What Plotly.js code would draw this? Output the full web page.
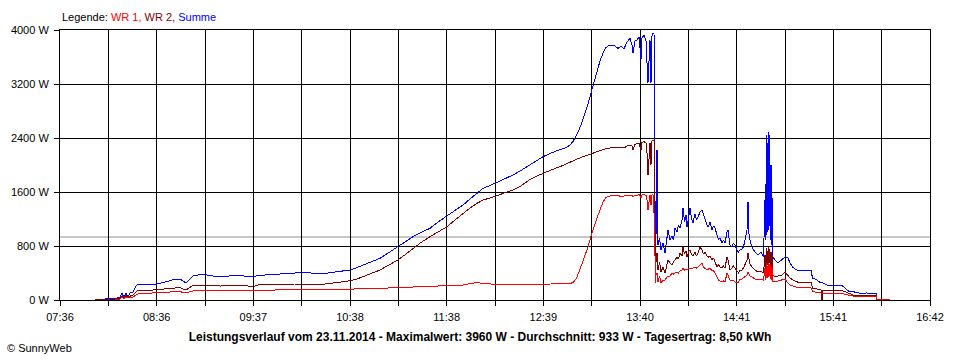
<!DOCTYPE html>
<html>
<head>
<meta charset="utf-8">
<script src="https://cdn.plot.ly/plotly-3.0.1.min.js"></script>
<style>
html,body{margin:0;padding:0;background:#fff;}
#chart{width:960px;height:360px;}
#chart .scatterlayer path, #chart .gridlayer path, #chart .layer-between path { shape-rendering: crispEdges; }
</style>
</head>
<body>
<div id="chart"></div>
<script>
// ---- data ----
const seriesNames = ['WR 1', 'WR 2', 'Summe'];
const times = [
'07:57:58','08:04:15','08:10:31','08:13:39','08:14:55','08:16:10','08:17:25','08:18:41','08:19:56','08:21:49',
'08:23:42','08:24:57','08:27:28','08:30:36','08:33:44','08:36:53','08:40:01','08:43:09','08:46:17','08:48:48',
'08:51:19','08:53:12','08:55:05','08:56:57','08:59:28','09:02:36','09:07:00','09:11:24','09:16:25','09:22:41',
'09:28:58','09:33:59','09:37:07','09:40:16','09:44:39','09:50:56','09:57:12','10:03:29','10:09:45','10:16:02',
'10:22:19','10:28:35','10:34:52','10:38:00','10:42:24','10:46:09','10:51:11','10:56:50','11:02:28','11:08:07',
'11:13:09','11:17:32','11:22:33','11:28:12','11:33:14','11:38:52','11:43:54','11:48:55','11:53:19','11:57:42',
'12:01:28','12:05:52','12:09:38','12:15:17','12:20:18','12:25:19','12:30:58','12:35:21','12:39:07','12:44:09',
'12:49:48','12:53:33','12:56:04','12:57:57','12:59:50','13:01:43','13:03:36','13:05:29','13:07:22','13:09:15',
'13:11:08','13:13:01','13:14:54','13:16:47','13:18:40','13:21:10','13:23:41','13:26:12','13:28:05','13:29:57',
'13:31:50','13:33:43','13:34:59','13:35:36','13:36:52','13:38:07','13:39:22','13:40:38','13:41:15','13:42:31',
'13:43:46','13:44:23','13:45:01','13:46:16','13:46:54','13:47:32','13:48:09','13:48:47','13:49:13','13:49:36',
'13:50:02','13:50:40','13:51:18','13:52:14','13:53:11','13:54:26','13:55:41','13:56:57','13:57:34','13:58:50',
'14:00:05','14:01:01','14:01:58','14:03:13','14:04:10','14:05:06','14:06:21','14:06:59','14:07:56','14:08:52',
'14:09:30','14:10:26','14:11:23','14:12:19','14:13:16','14:14:31','14:15:27','14:16:24','14:17:39','14:18:55',
'14:19:51','14:20:48','14:22:03','14:22:59','14:23:56','14:25:11','14:26:08','14:27:04','14:28:19','14:29:16',
'14:30:12','14:31:28','14:32:24','14:33:21','14:34:36','14:35:14','14:36:29','14:37:44','14:38:41','14:39:37',
'14:40:52','14:41:49','14:42:45','14:44:01','14:44:57','14:45:54','14:47:09','14:47:47','14:48:24','14:49:02',
'14:50:17','14:52:10','14:54:03','14:55:56','14:57:30','14:58:27','14:58:53','14:59:16','14:59:42','15:00:05',
'15:00:31','15:00:57','15:01:20','15:01:46','15:02:13','15:02:35','15:03:02','15:03:28','15:04:43','15:06:36',
'15:09:07','15:11:00','15:12:53','15:14:08','15:16:01','15:18:32','15:22:18','15:25:26','15:27:19','15:28:15',
'15:31:05','15:32:58','15:33:35','15:34:13','15:34:51','15:37:21','15:42:23','15:46:46','15:49:17','15:51:10',
'15:53:40','15:56:11','15:58:42','16:01:50','16:04:58','16:08:06','16:08:44','16:13:08','16:16:54'
];
const summe = [
7,15,22,44,104,30,104,37,104,119,
207,237,230,237,230,237,252,274,296,311,
311,281,252,296,356,370,378,356,348,356,
363,348,341,363,370,385,393,400,403,396,
393,415,437,444,481,518,563,618,704,790,
874,938,1000,1062,1156,1244,1326,1407,1496,1580,
1654,1696,1738,1793,1852,1919,2000,2059,2123,2178,
2222,2259,2296,2348,2430,2519,2637,2756,2904,3067,
3230,3388,3541,3659,3741,3778,3770,3729,3763,3719,
3822,3874,3778,3659,3837,3852,3896,3570,3881,3926,
3837,3526,3215,3852,3215,3911,3951,3955,2785,741,
948,2222,815,919,741,844,696,933,1037,889,
948,889,1067,1007,1111,1067,1185,1363,1156,1259,
1081,1215,1363,1215,1141,1274,1185,1230,1304,1333,
1259,1185,1111,1081,1156,1037,1096,1067,948,889,
919,844,889,844,1007,1037,815,785,844,815,
741,711,741,756,785,919,1037,1452,978,889,
785,711,667,711,637,1481,889,2444,963,2074,
2494,1037,2444,889,2000,815,1511,637,593,548,
593,637,622,548,481,444,430,444,444,326,
296,259,252,252,252,222,222,215,163,126,
123,111,99,104,96,99,15,10,7
];
const wr2 = [
0,7,10,30,59,37,67,44,59,74,
119,141,133,141,141,148,156,163,170,178,
185,163,148,178,215,222,222,215,207,215,
215,207,200,222,230,230,237,237,237,230,
237,252,274,286,311,345,393,444,519,593,
681,766,852,938,1012,1086,1185,1284,1363,1432,
1481,1511,1541,1585,1630,1689,1788,1837,1877,1926,
1975,2015,2044,2067,2081,2104,2119,2133,2148,2163,
2185,2197,2215,2230,2244,2252,2247,2252,2259,2252,
2281,2296,2281,2222,2304,2311,2326,2222,2333,2348,
2326,2193,1852,2326,2000,2356,2370,2370,1778,341,
563,696,444,563,415,489,400,519,593,548,
519,563,593,637,607,696,652,785,681,726,
637,711,741,681,652,711,652,696,785,741,
681,711,652,637,652,593,622,563,489,519,
489,474,504,474,637,593,444,474,504,474,
430,400,444,444,474,519,593,696,622,533,
489,444,415,430,400,667,474,770,519,741,
785,533,756,474,711,444,652,370,341,356,
370,415,356,326,296,267,262,267,259,178,
163,148,148,0,148,148,148,141,119,104,
74,74,74,74,70,74,7,0,0
];
const wr1 = [
0,0,0,15,44,22,44,30,40,44,
74,89,96,99,104,111,111,119,119,126,
126,111,104,119,133,138,141,138,138,138,
138,138,138,144,148,148,151,156,159,159,
156,156,156,156,159,163,167,173,178,182,
185,188,193,197,200,207,215,222,244,256,
248,233,230,230,233,234,237,237,237,237,
240,240,244,259,311,415,533,641,785,948,
1096,1215,1333,1452,1519,1541,1541,1548,1533,1541,
1548,1556,1548,1526,1556,1548,1563,1511,1556,1563,
1548,1481,1333,1556,1407,1556,1556,1185,1111,252,
370,400,267,356,252,296,296,341,341,356,
400,385,400,415,400,430,444,474,444,459,
444,467,474,474,474,489,474,489,519,548,
489,474,444,459,474,430,430,400,326,296,
281,267,281,267,400,370,296,296,281,267,
252,267,311,311,326,341,370,415,385,356,
341,311,296,311,296,474,296,548,326,519,
548,341,533,311,504,296,474,267,267,281,
296,311,252,222,207,185,178,173,178,126,
111,104,99,99,99,99,99,96,81,67,
59,59,59,59,55,59,7,0,0
];
const average = 933;
const xTickLabels = ['07:36','','08:36','','09:37','','10:38','','11:38','','12:39','','13:40','','14:41','','15:41','','16:42'];
const yTickValues = [0, 800, 1600, 2400, 3200, 4000];
const titleText = 'Leistungsverlauf vom 23.11.2014 - Maximalwert: 3960 W - Durchschnitt: 933 W - Tagesertrag: 8,50 kWh';
const copyrightText = '© SunnyWeb';

// ---- helpers ----
function toMin(t) {
  const p = t.split(':').map(Number);
  return p[0] * 60 + p[1] + (p[2] || 0) / 60;
}
const xs = times.map(toMin);
const xStart = toMin(xTickLabels[0]);
const xEnd = toMin(xTickLabels[xTickLabels.length - 1]);
const tickVals = xTickLabels.map((_, i) => xStart + i * (xEnd - xStart) / (xTickLabels.length - 1));

const colors = ['#ff0000', '#800000', '#0000ff'];
const FONT = 'Liberation Sans, Arial, sans-serif';

const traces = [
  {x: xs, y: summe, name: seriesNames[2], type: 'scatter', mode: 'lines', line: {color: colors[2], width: 1}},
  {x: xs, y: wr2, name: seriesNames[1], type: 'scatter', mode: 'lines', line: {color: colors[1], width: 1}},
  {x: xs, y: wr1, name: seriesNames[0], type: 'scatter', mode: 'lines', line: {color: colors[0], width: 1}}
];

const legendText = 'Legende: ' +
  '<span style="color:' + colors[0] + '">' + seriesNames[0] + ',</span> ' +
  '<span style="color:' + colors[1] + '">' + seriesNames[1] + ',</span> ' +
  '<span style="color:' + colors[2] + '">' + seriesNames[2] + '</span>';

const layout = {
  width: 960, height: 360,
  margin: {l: 60, r: 30, t: 30, b: 60, pad: 0},
  paper_bgcolor: '#ffffff', plot_bgcolor: '#ffffff',
  showlegend: false,
  font: {family: FONT, size: 11, color: '#000000'},
  title: {
    text: '<b>' + titleText + '</b>',
    font: {family: FONT, size: 12, color: '#000000'},
    xref: 'container', yref: 'container', x: 0.5, y: 1 - 337 / 360,
    xanchor: 'center', yanchor: 'middle'
  },
  xaxis: {
    range: [xStart, xEnd], tickmode: 'array', tickvals: tickVals, ticktext: xTickLabels,
    showgrid: true, gridcolor: '#000000', gridwidth: 1, zeroline: false,
    showline: true, linecolor: '#000000', linewidth: 1, mirror: true,
    ticks: 'outside', ticklen: 5, tickcolor: '#000000', tickwidth: 1,
    ticklabelstandoff: 2,
    tickfont: {family: FONT, size: 11, color: '#000000'}
  },
  yaxis: {
    range: [0, 4000], tickmode: 'array', tickvals: yTickValues,
    ticktext: yTickValues.map(v => v + ' W'),
    showgrid: true, gridcolor: '#000000', gridwidth: 1, zeroline: false,
    showline: true, linecolor: '#000000', linewidth: 1, mirror: true,
    ticks: 'outside', ticklen: 5, tickcolor: '#000000', tickwidth: 1,
    ticklabelstandoff: 3,
    tickfont: {family: FONT, size: 11, color: '#000000'}
  },
  shapes: [{
    type: 'line', xref: 'paper', x0: 0, x1: 1, yref: 'y', y0: average, y1: average,
    line: {color: '#909090', width: 1}, layer: 'between'
  }],
  annotations: [
    {text: legendText, xref: 'paper', yref: 'paper', x: 0, y: (300 - 17) / 270,
     xanchor: 'left', yanchor: 'middle', showarrow: false,
     font: {family: FONT, size: 11, color: '#000000'}},
    {text: copyrightText, xref: 'paper', yref: 'paper', x: (5 - 60) / 870, y: (300 - 348) / 270,
     xanchor: 'left', yanchor: 'middle', showarrow: false,
     font: {family: FONT, size: 11, color: '#000000'}}
  ]
};

Plotly.newPlot('chart', traces, layout, {displayModeBar: false, staticPlot: true});
</script>
</body>
</html>
